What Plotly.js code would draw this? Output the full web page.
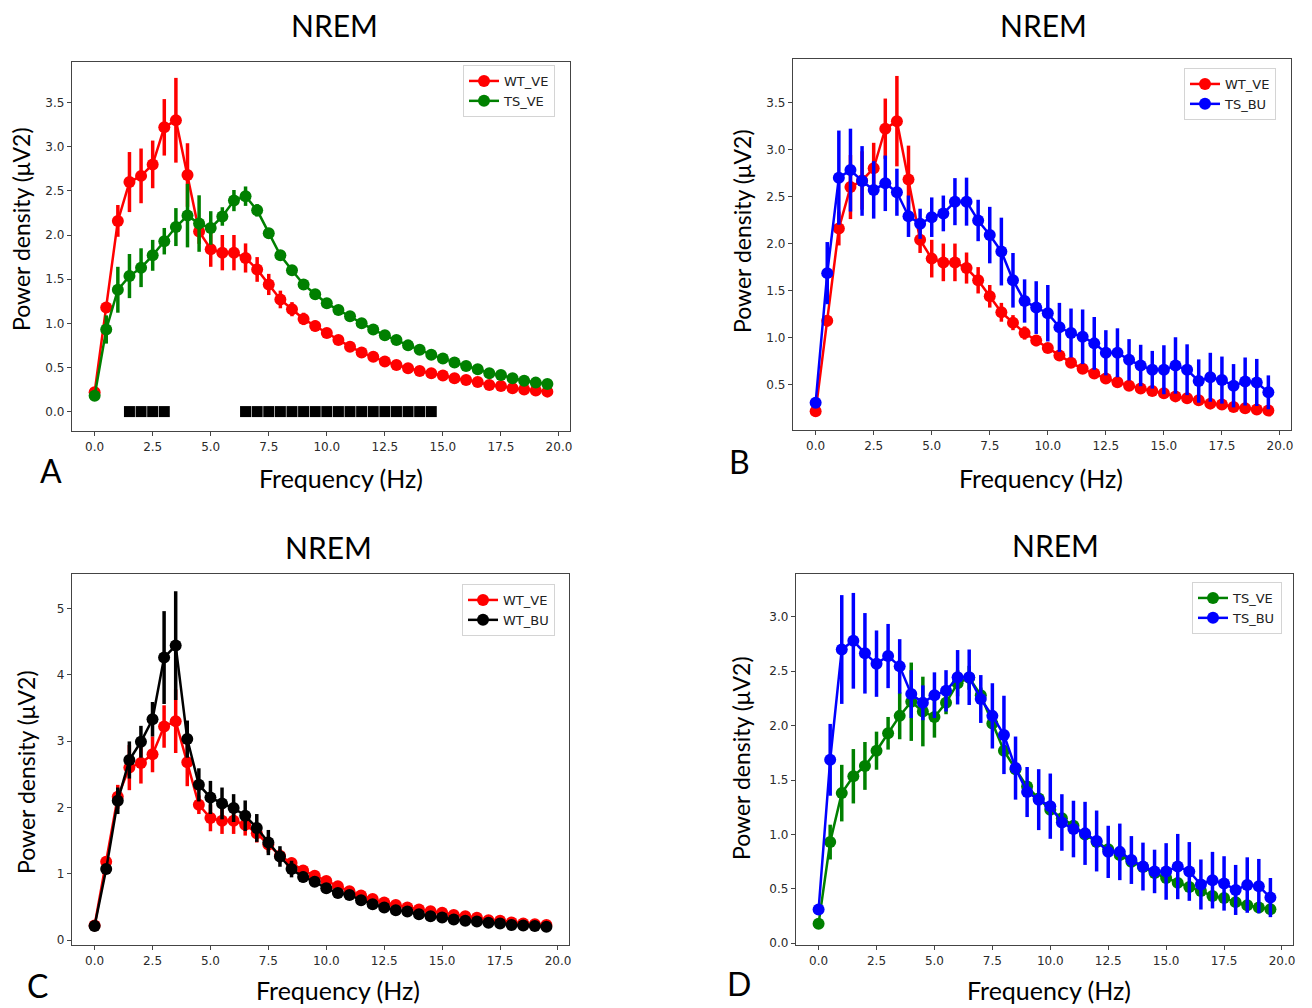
<!DOCTYPE html>
<html>
<head>
<meta charset="utf-8">
<script src="https://cdn.plot.ly/plotly-3.0.1.min.js"></script>
<style>html,body{margin:0;padding:0;background:#fff;}#chart{width:1312px;height:1008px;}</style>
</head>
<body>
<div id="chart"></div>
<script>
// Frequency bins (Hz)
const freq = [0,0.5,1,1.5,2,2.5,3,3.5,4,4.5,5,5.5,6,6.5,7,7.5,8,8.5,9,9.5,
              10,10.5,11,11.5,12,12.5,13,13.5,14,14.5,15,15.5,16,16.5,17,17.5,18,18.5,19,19.5];

// WT_VE
const wtVeMean = [0.22,1.18,2.16,2.60,2.67,2.80,3.22,3.30,2.68,2.04,1.84,1.80,1.80,1.74,1.61,1.44,1.27,1.16,1.05,0.97,
                  0.89,0.81,0.735,0.67,0.62,0.566,0.528,0.49,0.46,0.434,0.41,0.377,0.358,0.336,0.30,0.29,0.264,0.25,0.238,0.226];
const wtVeErr  = [0.02,0.06,0.18,0.34,0.31,0.27,0.32,0.48,0.36,0.14,0.20,0.20,0.20,0.165,0.14,0.12,0.10,0.08,0.07,0.06,
                  0.05,0.05,0.045,0.04,0.035,0.03,0.03,0.03,0.025,0.025,0.025,0.02,0.02,0.02,0.02,0.02,0.02,0.02,0.02,0.02];

// TS_VE
const tsVeMean = [0.18,0.93,1.38,1.535,1.63,1.77,1.93,2.09,2.22,2.13,2.08,2.21,2.39,2.44,2.28,2.02,1.77,1.60,1.44,1.33,
                  1.226,1.15,1.08,1.00,0.93,0.864,0.81,0.75,0.70,0.645,0.60,0.555,0.517,0.48,0.434,0.415,0.378,0.35,0.328,0.313];
const tsVeErr  = [0.02,0.16,0.26,0.25,0.22,0.175,0.15,0.215,0.36,0.32,0.19,0.105,0.12,0.11,0.07,0.05,0.04,0.04,0.035,0.03,
                  0.03,0.03,0.03,0.03,0.03,0.03,0.03,0.03,0.03,0.03,0.03,0.03,0.03,0.03,0.03,0.03,0.03,0.03,0.03,0.03];

// TS_BU
const tsBuMean = [0.31,1.686,2.70,2.78,2.665,2.57,2.64,2.545,2.29,2.21,2.28,2.32,2.445,2.445,2.245,2.09,1.915,1.61,1.39,1.32,
                  1.26,1.11,1.05,1.01,0.94,0.84,0.84,0.765,0.705,0.66,0.66,0.705,0.66,0.54,0.58,0.55,0.49,0.535,0.525,0.42];
const tsBuErr  = [0.03,0.33,0.50,0.44,0.37,0.305,0.295,0.25,0.22,0.16,0.21,0.19,0.25,0.255,0.22,0.30,0.36,0.29,0.23,0.28,
                  0.30,0.26,0.26,0.29,0.28,0.24,0.26,0.22,0.22,0.20,0.26,0.30,0.27,0.23,0.26,0.25,0.23,0.255,0.25,0.18];

// WT_BU
const wtBuMean = [0.21,1.07,2.10,2.715,2.99,3.33,4.26,4.44,3.03,2.34,2.15,2.06,1.99,1.875,1.69,1.47,1.26,1.07,0.95,0.88,
                  0.78,0.71,0.68,0.60,0.54,0.49,0.45,0.43,0.39,0.36,0.34,0.31,0.29,0.28,0.26,0.25,0.226,0.22,0.21,0.20];
const wtBuErr  = [0.02,0.06,0.20,0.28,0.24,0.26,0.70,0.82,0.28,0.25,0.25,0.24,0.21,0.23,0.21,0.19,0.155,0.125,0.08,0.06,
                  0.05,0.045,0.04,0.04,0.035,0.035,0.03,0.03,0.03,0.03,0.025,0.025,0.025,0.02,0.02,0.02,0.02,0.02,0.02,0.02];

// Significant bins (panel A), drawn at power 0
const sigFreq = [1.5,2,2.5,3,6.5,7,7.5,8,8.5,9,9.5,10,10.5,11,11.5,12,12.5,13,13.5,14,14.5];
const sigLevel = sigFreq.map(() => 0);

// Tick labels
const xTickVals = [0,2.5,5,7.5,10,12.5,15,17.5,20];
const xTickText = ['0.0','2.5','5.0','7.5','10.0','12.5','15.0','17.5','20.0'];
const yTickValsA = [0,0.5,1,1.5,2,2.5,3,3.5];
const yTickTextA = ['0.0','0.5','1.0','1.5','2.0','2.5','3.0','3.5'];
const yTickValsB = [0.5,1,1.5,2,2.5,3,3.5];
const yTickTextB = ['0.5','1.0','1.5','2.0','2.5','3.0','3.5'];
const yTickValsC = [0,1,2,3,4,5];
const yTickTextC = ['0','1','2','3','4','5'];
const yTickValsD = [0,0.5,1,1.5,2,2.5,3];
const yTickTextD = ['0.0','0.5','1.0','1.5','2.0','2.5','3.0'];

const panelTitle = 'NREM';
const xLabel = 'Frequency (Hz)';
const yLabel = 'Power density (μV2)';
const panelLetters = ['A','B','C','D'];

const RED = '#ff0000', GREEN = '#008000', BLUE = '#0000ff', BLACK = '#000000';
const W = 1312, H = 1008;

function series(name, mean, err, color, xa, ya, leg) {
  return {
    type: 'scatter', mode: 'lines+markers', name: name,
    x: freq, y: mean, xaxis: xa, yaxis: ya, legend: leg,
    line: {color: color, width: 2.5},
    marker: {color: color, size: 12, line: {width: 0}},
    error_y: {type: 'data', array: err, visible: true, color: color, thickness: 3.5, width: 0}
  };
}

const traces = [
  series('WT_VE', wtVeMean, wtVeErr, RED, 'x', 'y', 'legend'),
  series('TS_VE', tsVeMean, tsVeErr, GREEN, 'x', 'y', 'legend'),
  {type: 'scatter', mode: 'markers', x: sigFreq, y: sigLevel, xaxis: 'x', yaxis: 'y', showlegend: false,
   marker: {symbol: 'square', size: 11, color: BLACK, line: {width: 0}}},
  series('WT_VE', wtVeMean, wtVeErr, RED, 'x2', 'y2', 'legend2'),
  series('TS_BU', tsBuMean, tsBuErr, BLUE, 'x2', 'y2', 'legend2'),
  series('WT_VE', wtVeMean, wtVeErr, RED, 'x3', 'y3', 'legend3'),
  series('WT_BU', wtBuMean, wtBuErr, BLACK, 'x3', 'y3', 'legend3'),
  series('TS_VE', tsVeMean, tsVeErr, GREEN, 'x4', 'y4', 'legend4'),
  series('TS_BU', tsBuMean, tsBuErr, BLUE, 'x4', 'y4', 'legend4')
];

const tickFont = {family: 'DejaVu Sans', size: 12, color: '#2a2a2a'};
function xAxis(left, right, anchor) {
  return {domain: [left / W, right / W], anchor: anchor, range: [-0.975, 20.475],
    tickvals: xTickVals, ticktext: xTickText, ticks: 'outside', ticklen: 4, tickwidth: 1, tickcolor: '#444',
    showline: true, linecolor: '#444', linewidth: 1.2, mirror: true, showgrid: false, zeroline: false,
    tickfont: tickFont, fixedrange: true};
}
function yAxis(top, bottom, anchor, range, vals, text) {
  return {domain: [1 - bottom / H, 1 - top / H], anchor: anchor, range: range,
    tickvals: vals, ticktext: text, ticks: 'outside', ticklen: 4, tickwidth: 1, tickcolor: '#444',
    showline: true, linecolor: '#444', linewidth: 1.2, mirror: true, showgrid: false, zeroline: false,
    tickfont: tickFont, fixedrange: true};
}
function legendAt(x, y) {
  return {x: x / W, y: 1 - y / H, xref: 'paper', yref: 'paper', xanchor: 'left', yanchor: 'top',
    bgcolor: 'rgba(255,255,255,0.9)', bordercolor: '#d4d4d4', borderwidth: 1,
    font: {family: 'DejaVu Sans', size: 13, color: '#222'}, tracegroupgap: 0, itemwidth: 30};
}
function ann(text, x, y, size, angle) {
  const a = {text: text, x: x / W, y: 1 - y / H, xref: 'paper', yref: 'paper', showarrow: false,
    xanchor: 'center', yanchor: 'middle', font: {family: 'Lato', size: size, color: '#000'}};
  if (angle) a.textangle = angle;
  return a;
}

const layout = {
  width: W, height: H, margin: {l: 0, r: 0, t: 0, b: 0},
  paper_bgcolor: '#fff', plot_bgcolor: '#fff', showlegend: true,
  xaxis:  xAxis(72, 570, 'y'),
  yaxis:  yAxis(62, 431, 'x', [-0.22, 3.96], yTickValsA, yTickTextA),
  xaxis2: xAxis(793, 1291, 'y2'),
  yaxis2: yAxis(59, 430, 'x2', [0.02, 3.96], yTickValsB, yTickTextB),
  xaxis3: xAxis(72, 569, 'y3'),
  yaxis3: yAxis(574, 945, 'x3', [-0.075, 5.52], yTickValsC, yTickTextC),
  xaxis4: xAxis(796, 1293, 'y4'),
  yaxis4: yAxis(574, 945, 'x4', [-0.016, 3.394], yTickValsD, yTickTextD),
  legend:  legendAt(463, 65),
  legend2: legendAt(1184, 68),
  legend3: legendAt(462, 584),
  legend4: legendAt(1192, 582),
  annotations: [
    ann(panelTitle, 334, 25, 30), ann(panelTitle, 1043, 25, 30),
    ann(panelTitle, 328, 547, 30), ann(panelTitle, 1055, 545, 30),
    ann(xLabel, 341, 478, 25), ann(xLabel, 1041, 478, 25),
    ann(xLabel, 338, 990, 25), ann(xLabel, 1049, 990, 25),
    ann(yLabel, 21, 229, 23, -90), ann(yLabel, 742, 231, 23, -90),
    ann(yLabel, 26, 772, 23, -90), ann(yLabel, 741, 758, 23, -90),
    ann(panelLetters[0], 51, 470, 32), ann(panelLetters[1], 739, 462, 32),
    ann(panelLetters[2], 37, 985, 32), ann(panelLetters[3], 739, 983, 32)
  ]
};

Plotly.newPlot('chart', traces, layout, {staticPlot: true, displayModeBar: false});
</script>
</body>
</html>
